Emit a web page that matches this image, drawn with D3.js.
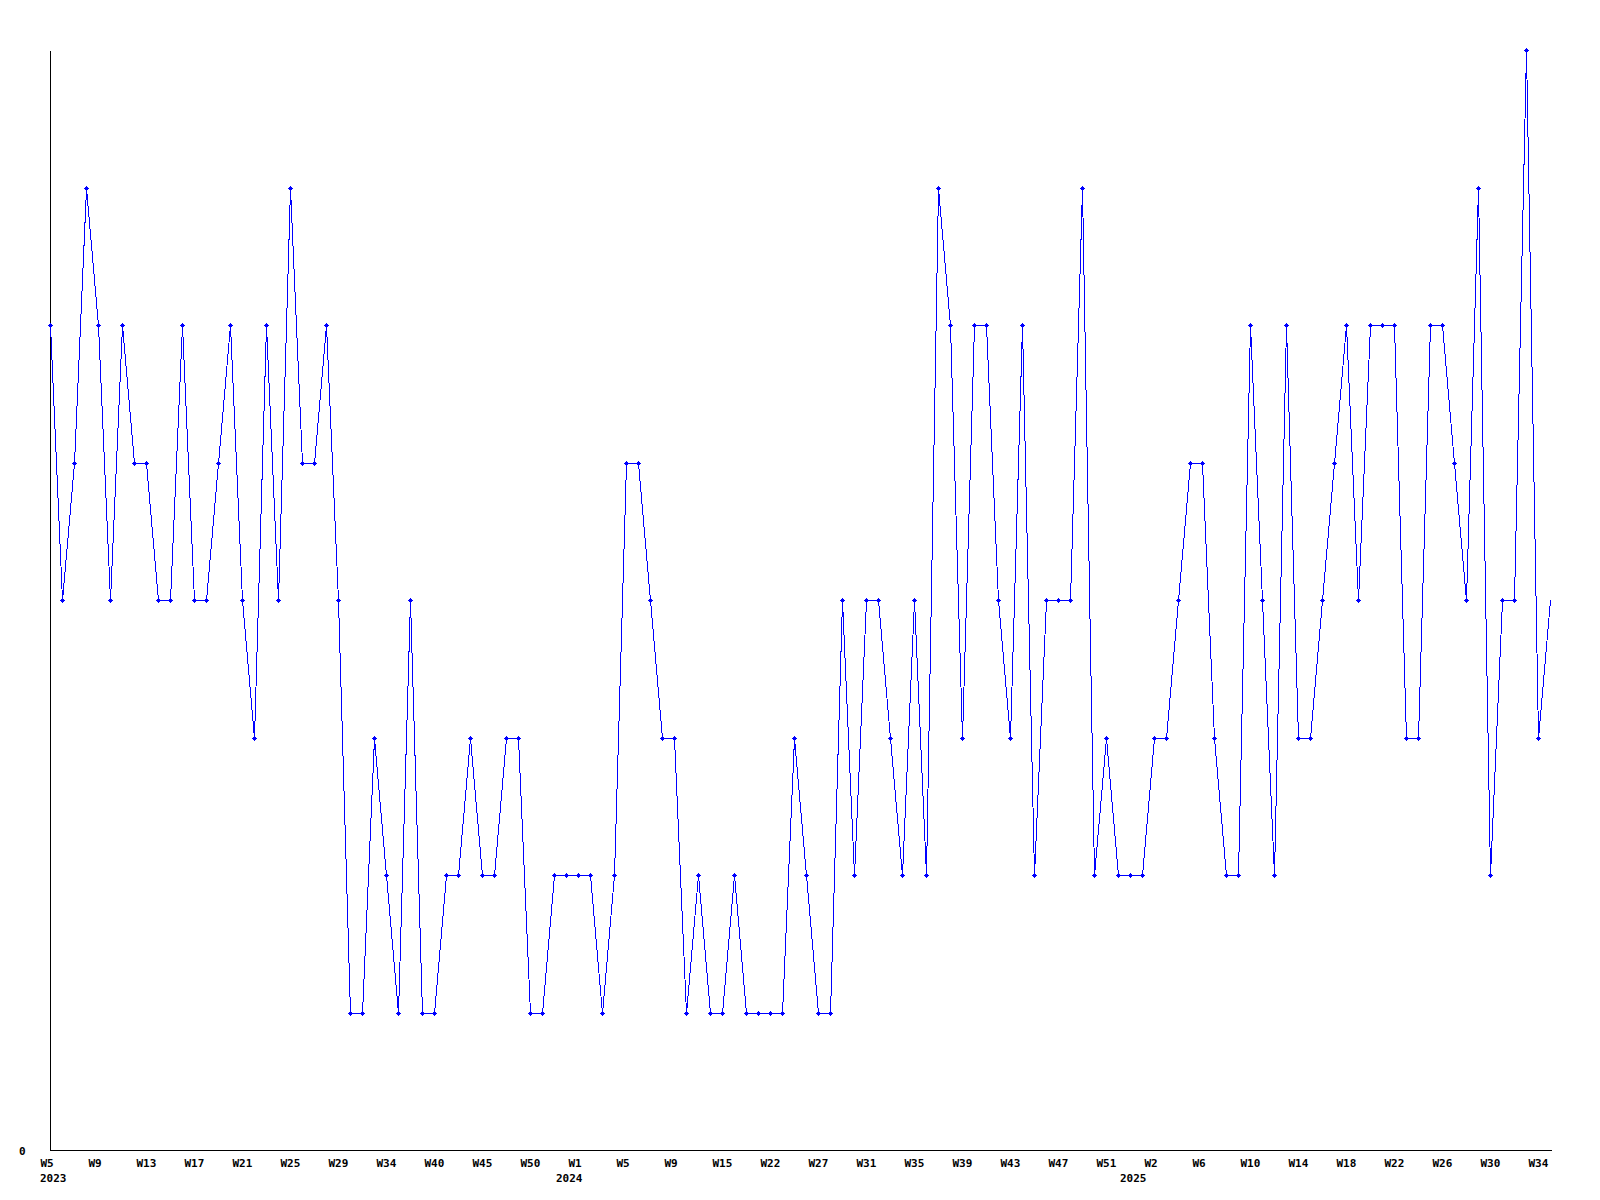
<!DOCTYPE html>
<html>
<head>
<meta charset="utf-8">
<script src="https://cdn.jsdelivr.net/npm/d3@7"></script>
<style>
  html, body { margin: 0; padding: 0; background: #ffffff; }
  svg { display: block; }
  text { font-family: "DejaVu Sans Mono", monospace; font-weight: bold; font-size: 11px; fill: #000; }
</style>
</head>
<body>
<svg id="chart" width="1600" height="1200"></svg>
<script>
// Weekly values (one per point, 2023 W5 .. 2025 W35)
const values = [
  6,4,5,7,6,4,6,5,5,4,
  4,6,4,4,5,6,4,3,6,4,
  7,5,5,6,4,1,1,3,2,1,
  4,1,1,2,2,3,2,2,3,3,
  1,1,2,2,2,2,1,2,5,5,
  4,3,3,1,2,1,1,2,1,1,
  1,1,3,2,1,1,4,2,4,4,
  3,2,4,2,7,6,3,6,6,4,
  3,6,2,4,4,4,7,2,3,2,
  2,2,3,3,4,5,5,3,2,2,
  6,4,2,6,3,3,4,5,6,4,
  6,6,6,3,3,6,6,5,4,7,
  2,4,4,8,3,4
];
// Week tick labels, one every 4 points
const tickLabels = [
  "W5","W9","W13","W17","W21","W25","W29","W34","W40","W45","W50",
  "W1","W5","W9","W15","W22","W27","W31","W35","W39","W43","W47","W51",
  "W2","W6","W10","W14","W18","W22","W26","W30","W34"
];
const tickStep = 4;
// Year labels and the point index they sit under
const yearLabels = ["2023","2024","2025"];
const yearIndex = [0, 43, 90];
const yTicks = [0];
const yMax = 8;

const svg = d3.select("#chart");
const x = d3.scaleLinear().domain([0, values.length - 1]).range([50, 1550]);
const y = d3.scaleLinear().domain([0, yMax]).range([1150, 50]);

// axes
const xAxis = d3.axisBottom(x)
  .tickValues(tickLabels.map((_, i) => i * tickStep))
  .tickFormat((d, i) => tickLabels[i])
  .tickSize(0).tickSizeOuter(0).tickPadding(0);
const gx = svg.append("g").attr("transform", "translate(0.5,1150.5)").call(xAxis);
gx.select(".domain").attr("stroke", "#000").attr("shape-rendering", "crispEdges")
  .attr("d", `M${x(0)},0H${x(values.length - 1) + 1}`);
gx.selectAll(".tick text")
  .attr("text-anchor", "start").attr("dx", -10.5).attr("y", 16.5).attr("dy", 0)
  .attr("fill", "#000").style("font-family", "DejaVu Sans Mono").style("font-weight", "bold").style("font-size", "11px");

const yAxis = d3.axisLeft(y).tickValues(yTicks).tickFormat(d3.format("d"))
  .tickSize(0).tickSizeOuter(0).tickPadding(25);
const gy = svg.append("g").attr("transform", "translate(50.5,0.5)").call(yAxis);
gy.select(".domain").attr("stroke", "#000").attr("shape-rendering", "crispEdges")
  .attr("d", `M0,${y(yMax)}V${y(0)}`);
gy.selectAll(".tick text")
  .attr("dy", "0.32em")
  .attr("fill", "#000").style("font-family", "DejaVu Sans Mono").style("font-weight", "bold").style("font-size", "11px");

// year labels
svg.append("g").selectAll("text").data(yearLabels).join("text")
  .attr("x", (d, i) => x(yearIndex[i]) - 10)
  .attr("y", 1182)
  .text(d => d);

// line
const pts = values.map((v, i) => [i, v]);
const line = d3.line().x(d => Math.round(x(d[0])) + 0.5).y(d => Math.round(y(d[1])) + 0.5);
svg.append("path").datum(pts)
  .attr("d", line)
  .attr("fill", "none").attr("stroke", "#0000ff").attr("stroke-width", 1)
  .attr("shape-rendering", "crispEdges");

// markers (all points except the last)
const mk = svg.append("g").attr("fill", "#0000ff").attr("shape-rendering", "crispEdges");
pts.slice(0, -1).forEach(d => {
  const cx = Math.round(x(d[0])), cy = Math.round(y(d[1]));
  mk.append("rect").attr("x", cx - 2).attr("y", cy).attr("width", 5).attr("height", 1);
  mk.append("rect").attr("x", cx).attr("y", cy - 2).attr("width", 1).attr("height", 5);
  mk.append("rect").attr("x", cx - 1).attr("y", cy - 1).attr("width", 3).attr("height", 3);
});
</script>
</body>
</html>
